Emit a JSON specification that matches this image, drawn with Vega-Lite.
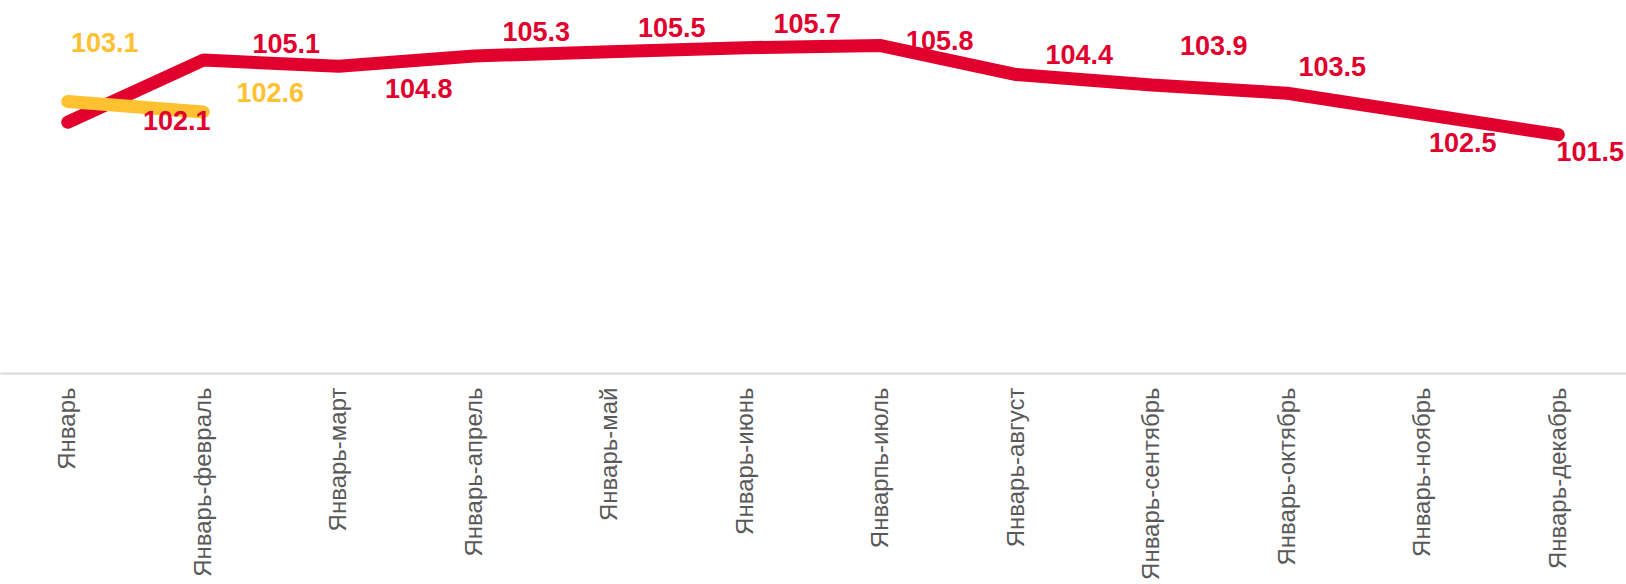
{
  "$schema": "https://vega.github.io/schema/vega-lite/v6.json",
  "autosize": {"type": "none"},
  "padding": {"left": 0, "top": 0, "right": 0, "bottom": 211},
  "width": 1626,
  "height": 373,
  "background": "white",
  "config": {"view": {"stroke": null}, "font": "Liberation Sans"},
  "datasets": {
    "red": [
      {"period": "Январь", "value": 102.1},
      {"period": "Январь-февраль", "value": 105.1},
      {"period": "Январь-март", "value": 104.8},
      {"period": "Январь-апрель", "value": 105.3},
      {"period": "Январь-май", "value": 105.5},
      {"period": "Январь-июнь", "value": 105.7},
      {"period": "Январпь-июль", "value": 105.8},
      {"period": "Январь-август", "value": 104.4},
      {"period": "Январь-сентябрь", "value": 103.9},
      {"period": "Январь-октябрь", "value": 103.5},
      {"period": "Январь-ноябрь", "value": 102.5},
      {"period": "Январь-декабрь", "value": 101.5}
    ],
    "yellow": [
      {"period": "Январь", "value": 103.1},
      {"period": "Январь-февраль", "value": 102.6}
    ]
  },
  "encoding": {
    "x": {
      "field": "period", "type": "nominal", "sort": null,
      "scale": {"type": "point", "padding": 0.5,
        "domain": ["Январь","Январь-февраль","Январь-март","Январь-апрель","Январь-май","Январь-июнь","Январпь-июль","Январь-август","Январь-сентябрь","Январь-октябрь","Январь-ноябрь","Январь-декабрь"]},
      "axis": {"title": null, "labelAngle": -90, "labelFontSize": 24, "labelColor": "#595959", "labelPadding": 14, "ticks": false, "domainColor": "#D9D9D9", "domainWidth": 2, "grid": false, "labelFont": "Liberation Sans", "labelOverlap": false, "labelBound": false, "labelLimit": 0}
    },
    "y": {"field": "value", "type": "quantitative", "scale": {"domain": [90, 108], "zero": false, "nice": false}, "axis": null}
  },
  "layer": [
    {"data": {"name": "red"}, "mark": {"type": "line", "color": "#E1002D", "strokeWidth": 13, "strokeCap": "round", "strokeJoin": "bevel"}},
    {"data": {"name": "yellow"}, "mark": {"type": "line", "color": "#FFC130", "strokeWidth": 13, "strokeCap": "round"}},
    {"data": {"name": "red"},
     "transform": [{"filter": {"field": "period", "oneOf": ["Январь-апрель","Январь-май","Январь-июнь"]}}],
     "mark": {"type": "text", "color": "#E1002D", "fontSize": 27, "fontWeight": "bold", "dx": 62, "dy": -23},
     "encoding": {"text": {"field": "value", "type": "quantitative", "format": ".1f"}}},
    {"data": {"name": "red"},
     "transform": [{"filter": {"field": "period", "equal": "Январь-февраль"}}],
     "mark": {"type": "text", "color": "#E1002D", "fontSize": 27, "fontWeight": "bold", "dx": 83, "dy": -15},
     "encoding": {"text": {"field": "value", "type": "quantitative", "format": ".1f"}}},
    {"data": {"name": "red"},
     "transform": [{"filter": {"field": "period", "equal": "Январь-август"}}],
     "mark": {"type": "text", "color": "#E1002D", "fontSize": 27, "fontWeight": "bold", "dx": 63, "dy": -19},
     "encoding": {"text": {"field": "value", "type": "quantitative", "format": ".1f"}}},
    {"data": {"name": "red"},
     "transform": [{"filter": {"field": "period", "equal": "Январь-октябрь"}}],
     "mark": {"type": "text", "color": "#E1002D", "fontSize": 27, "fontWeight": "bold", "dx": 45, "dy": -25},
     "encoding": {"text": {"field": "value", "type": "quantitative", "format": ".1f"}}},
    {"data": {"name": "red"},
     "transform": [{"filter": {"field": "period", "equal": "Январпь-июль"}}],
     "mark": {"type": "text", "color": "#E1002D", "fontSize": 27, "fontWeight": "bold", "dx": 59, "dy": -4},
     "encoding": {"text": {"field": "value", "type": "quantitative", "format": ".1f"}}},
    {"data": {"name": "red"},
     "transform": [{"filter": {"field": "period", "equal": "Январь-сентябрь"}}],
     "mark": {"type": "text", "color": "#E1002D", "fontSize": 27, "fontWeight": "bold", "dx": 62, "dy": -38},
     "encoding": {"text": {"field": "value", "type": "quantitative", "format": ".1f"}}},
    {"data": {"name": "red"},
     "transform": [{"filter": {"field": "period", "equal": "Январь-март"}}],
     "mark": {"type": "text", "color": "#E1002D", "fontSize": 27, "fontWeight": "bold", "dx": 80, "dy": 24},
     "encoding": {"text": {"field": "value", "type": "quantitative", "format": ".1f"}}},
    {"data": {"name": "red"},
     "transform": [{"filter": {"field": "period", "equal": "Январь-ноябрь"}}],
     "mark": {"type": "text", "color": "#E1002D", "fontSize": 27, "fontWeight": "bold", "dx": 40, "dy": 30},
     "encoding": {"text": {"field": "value", "type": "quantitative", "format": ".1f"}}},
    {"data": {"name": "red"},
     "transform": [{"filter": {"field": "period", "equal": "Январь-декабрь"}}],
     "mark": {"type": "text", "color": "#E1002D", "fontSize": 27, "fontWeight": "bold", "dx": 32, "dy": 18},
     "encoding": {"text": {"field": "value", "type": "quantitative", "format": ".1f"}}},
    {"data": {"name": "red"},
     "transform": [{"filter": {"field": "period", "equal": "Январь"}}],
     "mark": {"type": "text", "color": "#E1002D", "fontSize": 27, "fontWeight": "bold", "dx": 109, "dy": 0},
     "encoding": {"text": {"field": "value", "type": "quantitative", "format": ".1f"}}},
    {"data": {"name": "yellow"},
     "transform": [{"filter": {"field": "period", "equal": "Январь"}}],
     "mark": {"type": "text", "color": "#FFC130", "fontSize": 27, "fontWeight": "bold", "dx": 37, "dy": -58},
     "encoding": {"text": {"field": "value", "type": "quantitative", "format": ".1f"}}},
    {"data": {"name": "yellow"},
     "transform": [{"filter": {"field": "period", "equal": "Январь-февраль"}}],
     "mark": {"type": "text", "color": "#FFC130", "fontSize": 27, "fontWeight": "bold", "dx": 67, "dy": -18},
     "encoding": {"text": {"field": "value", "type": "quantitative", "format": ".1f"}}}
  ]
}
